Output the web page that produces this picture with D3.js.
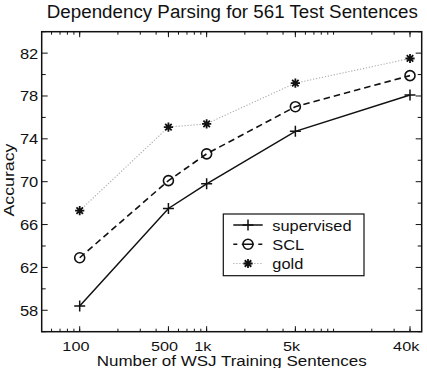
<!DOCTYPE html>
<html><head><meta charset="utf-8">
<script src="https://cdn.jsdelivr.net/npm/d3@7"></script>
<style>body{margin:0;background:#fff}svg{display:block}text{font-family:"Liberation Sans",Arial,sans-serif;fill:#111}</style>
</head><body><svg id="c" width="427" height="368"></svg>
<script>
const sizes = [100, 500, 1000, 5000, 40000];
const supervised = [58.4, 67.5, 69.8, 74.7, 78.1];
const scl = [62.9, 70.1, 72.6, 77.0, 79.9];
const gold = [67.3, 75.1, 75.4, 79.2, 81.5];
const xTickVals = [100, 500, 1000, 5000, 40000];
const xTickLabels = ["100", "500", "1k", "5k", "40k"];
const yTickVals = [58, 62, 66, 70, 74, 78, 82];
const seriesNames = ["supervised", "SCL", "gold"];

const svg = d3.select("#c");
const L = 41.7, R = 421.7, T = 31.7, B = 331.7;
const X100 = 79.7, X40k = 410;
const ppd = (X40k - X100) / Math.log10(400);
const xmin = Math.pow(10, 2 - (X100 - L) / ppd), xmax = Math.pow(10, 2 + (R - X100) / ppd);
const x = d3.scaleLog().domain([xmin, xmax]).range([L, R]);
const y = d3.scaleLinear().domain([56, 84]).range([B, T]);

function stretch(t, k) {
  const cw = t.node().getComputedTextLength();
  if (cw > 0) t.attr("textLength", cw * k).attr("lengthAdjust", "spacingAndGlyphs");
  return t;
}
function toWidth(t, w) {
  t.attr("textLength", w).attr("lengthAdjust", "spacingAndGlyphs");
  return t;
}

const logTicks = [];
for (let d = 10; d <= 100000; d *= 10) for (let k = 1; k < 10; k++) { const v = d * k; if (v >= xmin && v <= xmax) logTicks.push(v); }
const g = svg.append("g");
logTicks.forEach(v => {
  g.append("line").attr("x1", x(v)).attr("x2", x(v)).attr("y1", B).attr("y2", B - 3).attr("stroke", "#111").attr("stroke-width", 1);
  g.append("line").attr("x1", x(v)).attr("x2", x(v)).attr("y1", T).attr("y2", T + 3).attr("stroke", "#111").attr("stroke-width", 1);
});
xTickVals.forEach(v => {
  g.append("line").attr("x1", x(v)).attr("x2", x(v)).attr("y1", B).attr("y2", B - 5.5).attr("stroke", "#111");
  g.append("line").attr("x1", x(v)).attr("x2", x(v)).attr("y1", T).attr("y2", T + 5.5).attr("stroke", "#111");
});
d3.range(56, 85, 2).forEach(v => {
  const len = (v % 4 === 2) ? 6 : 4;
  g.append("line").attr("x1", L).attr("x2", L + len).attr("y1", y(v)).attr("y2", y(v)).attr("stroke", "#111");
  g.append("line").attr("x1", R).attr("x2", R - len).attr("y1", y(v)).attr("y2", y(v)).attr("stroke", "#111");
});
svg.append("rect").attr("x", L).attr("y", T).attr("width", R - L).attr("height", B - T).attr("fill", "none").attr("stroke", "#111").attr("stroke-width", 1.5);

xTickVals.forEach((v, i) => stretch(svg.append("text").attr("x", x(v) - 3.8).attr("y", 350.7).attr("text-anchor", "middle").attr("font-size", 13.5).text(xTickLabels[i]), 1.2));
yTickVals.forEach(v => stretch(svg.append("text").attr("x", 38.3).attr("y", y(v) + 5.4).attr("text-anchor", "end").attr("font-size", 15).text(v), 1.1));

toWidth(svg.append("text").attr("x", 231.7).attr("y", 366.3).attr("text-anchor", "middle").attr("font-size", 14).text("Number of WSJ Training Sentences"), 270);
toWidth(svg.append("text").attr("transform", "translate(14,180) rotate(-90)").attr("text-anchor", "middle").attr("font-size", 15).text("Accuracy"), 73);
toWidth(svg.append("text").attr("x", 232.3).attr("y", 18.3).attr("text-anchor", "middle").attr("font-size", 18).text("Dependency Parsing for 561 Test Sentences"), 371);

const line = d3.line().x(d => x(d[0])).y(d => y(d[1]));
const styles = [
  { data: supervised, stroke: "#111", dash: null, w: 1.5, marker: "plus" },
  { data: scl, stroke: "#111", dash: "6.5,4", w: 1.6, marker: "circle" },
  { data: gold, stroke: "#aaa", dash: "1.2,1.8", w: 1.1, marker: "star" }
];
function marker(sel, type, cx, cy) {
  if (type === "plus") {
    sel.append("path").attr("d", `M${cx - 5.5},${cy}H${cx + 5.5}M${cx},${cy - 5.5}V${cy + 5.5}`).attr("stroke", "#111").attr("stroke-width", 1.5);
  } else if (type === "circle") {
    sel.append("circle").attr("cx", cx).attr("cy", cy).attr("r", 5).attr("fill", "none").attr("stroke", "#111").attr("stroke-width", 1.6);
  } else {
    let d = "";
    for (let k = 0; k < 4; k++) { const a = k * Math.PI / 4, r = 4.6; d += `M${cx - r * Math.cos(a)},${cy - r * Math.sin(a)}L${cx + r * Math.cos(a)},${cy + r * Math.sin(a)}`; }
    sel.append("path").attr("d", d).attr("stroke", "#111").attr("stroke-width", 1.8);
  }
}
styles.forEach(s => {
  const pts = sizes.map((v, i) => [v, s.data[i]]);
  svg.append("path").attr("d", line(pts)).attr("fill", "none").attr("stroke", s.stroke).attr("stroke-width", s.w).attr("stroke-dasharray", s.dash);
  pts.forEach(p => marker(svg, s.marker, x(p[0]), y(p[1])));
});

const lg = svg.append("g");
lg.append("rect").attr("x", 223.3).attr("y", 214).attr("width", 140.7).attr("height", 61.7).attr("fill", "#fff").attr("stroke", "#111").attr("stroke-width", 1.2);
styles.forEach((s, i) => {
  const ly = 225 + i * 19.25;
  lg.append("line").attr("x1", 233.3).attr("x2", 262.7).attr("y1", ly).attr("y2", ly).attr("stroke", s.stroke).attr("stroke-width", s.w).attr("stroke-dasharray", i === 1 ? "4,4.5,12,4.5,4" : s.dash);
  marker(lg, s.marker, 248, ly);
  stretch(lg.append("text").attr("x", 272.3).attr("y", ly + 5.8).attr("font-size", 14.5).text(seriesNames[i]), 1.13);
});
</script></body></html>
